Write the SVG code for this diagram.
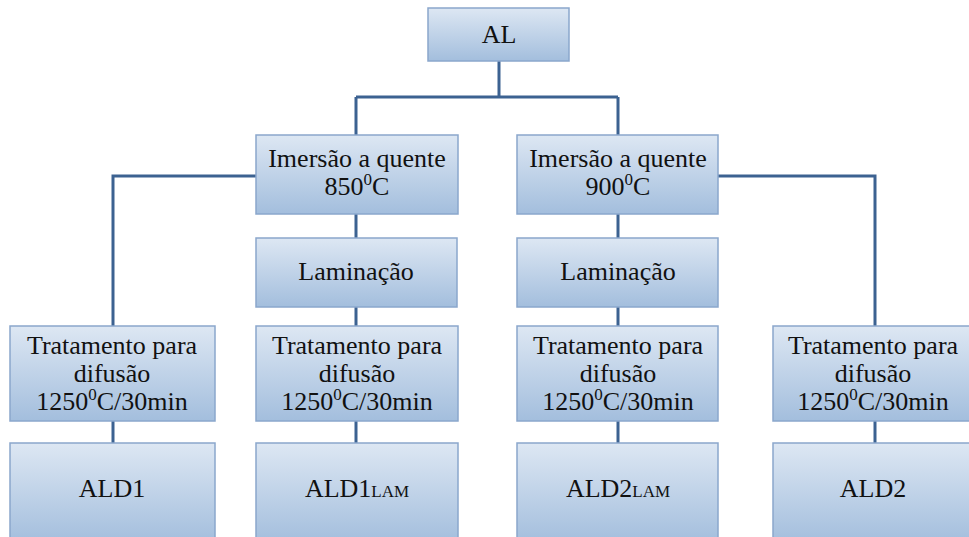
<svg xmlns="http://www.w3.org/2000/svg" width="969" height="537" viewBox="0 0 969 537">
<defs>
<linearGradient id="g" x1="0" y1="0" x2="0" y2="1">
<stop offset="0" stop-color="#dde7f3"/>
<stop offset="1" stop-color="#a3bedd"/>
</linearGradient>
</defs>
<style>
.box{fill:url(#g);stroke:#8aa7cc;stroke-width:1.5}
.c{fill:none;stroke:#3c6291;stroke-width:3}
</style>
<rect width="969" height="537" fill="#fff"/>
<g id="connectors">
<path class="c" d="M499 61V97M356 97H618M356 97V135M618 97V135"/>
<path class="c" d="M356 214V238M356 307V326M356 421V443"/>
<path class="c" d="M618 214V238M618 307V326M618 421V443"/>
<path class="c" d="M256 176H113V326M113 421V443"/>
<path class="c" d="M718 176H875V326M875 421V443"/>
</g>
<g id="al"><rect class="box" x="428" y="8" width="141" height="53"/><text font-family="Liberation Serif" font-size="26" text-anchor="middle" fill="#111" x="499" y="43">AL</text></g>
<g id="im850"><rect class="box" x="256" y="135" width="202" height="79"/><text font-family="Liberation Serif" font-size="26" text-anchor="middle" fill="#111" x="357" y="167">Imersão a quente</text><text font-family="Liberation Serif" font-size="26" text-anchor="middle" fill="#111" x="357" y="195">850<tspan font-size="17" dy="-10">0</tspan><tspan dy="10">C</tspan></text></g>
<g id="im900"><rect class="box" x="517" y="135" width="201" height="79"/><text font-family="Liberation Serif" font-size="26" text-anchor="middle" fill="#111" x="618" y="167">Imersão a quente</text><text font-family="Liberation Serif" font-size="26" text-anchor="middle" fill="#111" x="618" y="195">900<tspan font-size="17" dy="-10">0</tspan><tspan dy="10">C</tspan></text></g>
<g id="lam1"><rect class="box" x="256" y="238" width="201" height="69"/><text font-family="Liberation Serif" font-size="26" text-anchor="middle" fill="#111" x="356" y="280">Laminação</text></g>
<g id="lam2"><rect class="box" x="517" y="238" width="201" height="69"/><text font-family="Liberation Serif" font-size="26" text-anchor="middle" fill="#111" x="618" y="280">Laminação</text></g>
<g id="tr1"><rect class="box" x="10" y="326" width="205" height="95"/><text font-family="Liberation Serif" font-size="26" text-anchor="middle" fill="#111" x="112" y="354">Tratamento para</text><text font-family="Liberation Serif" font-size="26" text-anchor="middle" fill="#111" x="112" y="382">difusão</text><text font-family="Liberation Serif" font-size="26" text-anchor="middle" fill="#111" x="112" y="410">1250<tspan font-size="17" dy="-10">0</tspan><tspan dy="10">C/30min</tspan></text></g>
<g id="tr2"><rect class="box" x="256" y="326" width="202" height="95"/><text font-family="Liberation Serif" font-size="26" text-anchor="middle" fill="#111" x="357" y="354">Tratamento para</text><text font-family="Liberation Serif" font-size="26" text-anchor="middle" fill="#111" x="357" y="382">difusão</text><text font-family="Liberation Serif" font-size="26" text-anchor="middle" fill="#111" x="357" y="410">1250<tspan font-size="17" dy="-10">0</tspan><tspan dy="10">C/30min</tspan></text></g>
<g id="tr3"><rect class="box" x="517" y="326" width="201" height="95"/><text font-family="Liberation Serif" font-size="26" text-anchor="middle" fill="#111" x="618" y="354">Tratamento para</text><text font-family="Liberation Serif" font-size="26" text-anchor="middle" fill="#111" x="618" y="382">difusão</text><text font-family="Liberation Serif" font-size="26" text-anchor="middle" fill="#111" x="618" y="410">1250<tspan font-size="17" dy="-10">0</tspan><tspan dy="10">C/30min</tspan></text></g>
<g id="tr4"><rect class="box" x="773" y="326" width="200" height="95"/><text font-family="Liberation Serif" font-size="26" text-anchor="middle" fill="#111" x="873" y="354">Tratamento para</text><text font-family="Liberation Serif" font-size="26" text-anchor="middle" fill="#111" x="873" y="382">difusão</text><text font-family="Liberation Serif" font-size="26" text-anchor="middle" fill="#111" x="873" y="410">1250<tspan font-size="17" dy="-10">0</tspan><tspan dy="10">C/30min</tspan></text></g>
<g id="ald1"><rect class="box" x="10" y="443" width="205" height="100"/><text font-family="Liberation Serif" font-size="26" text-anchor="middle" fill="#111" x="112" y="497">ALD1</text></g>
<g id="ald1lam"><rect class="box" x="256" y="443" width="202" height="100"/><text font-family="Liberation Serif" font-size="26" text-anchor="middle" fill="#111" x="357" y="497">ALD1<tspan font-size="17">LAM</tspan></text></g>
<g id="ald2lam"><rect class="box" x="517" y="443" width="201" height="100"/><text font-family="Liberation Serif" font-size="26" text-anchor="middle" fill="#111" x="618" y="497">ALD2<tspan font-size="17">LAM</tspan></text></g>
<g id="ald2"><rect class="box" x="773" y="443" width="200" height="100"/><text font-family="Liberation Serif" font-size="26" text-anchor="middle" fill="#111" x="873" y="497">ALD2</text></g>
</svg>
